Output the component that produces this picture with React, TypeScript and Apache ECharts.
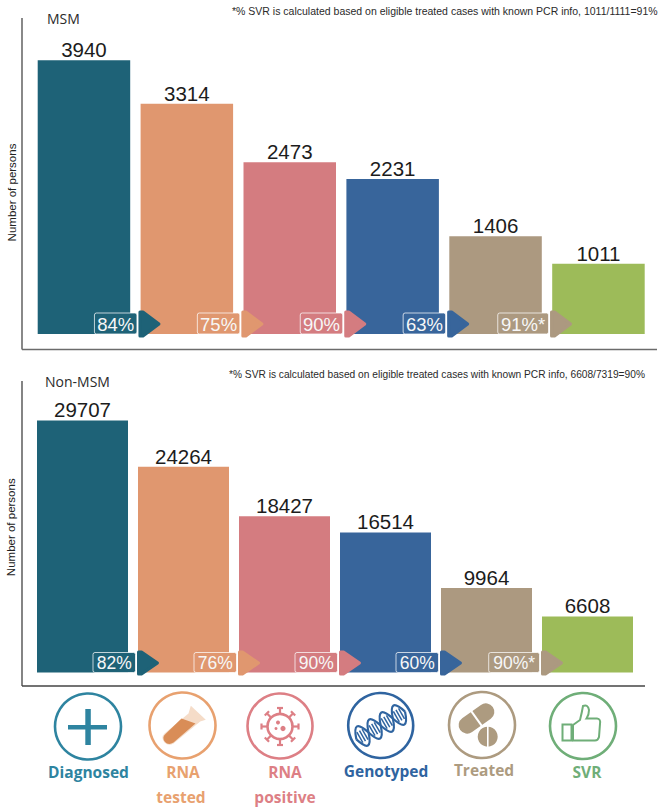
import React, { useEffect, useRef } from "react";
import * as echarts from "echarts";

const stages = ["Diagnosed", "RNA tested", "RNA positive", "Genotyped", "Treated", "SVR"];
const msmValues = [3940, 3314, 2473, 2231, 1406, 1011];
const nonMsmValues = [29707, 24264, 18427, 16514, 9964, 6608];
const msmRates = ["84%", "75%", "90%", "63%", "91%*"];
const nonMsmRates = ["82%", "76%", "90%", "60%", "90%*"];
const barColors = ["#1E6277", "#E0976F", "#D47C80", "#38659B", "#AC9980", "#9DBB59"];
const msmNote = "*% SVR is calculated based on eligible treated cases with known PCR info, 1011/1111=91%";
const nonMsmNote = "*% SVR is calculated based on eligible treated cases with known PCR info, 6608/7319=90%";
const FONT = "'Liberation Sans', Arial, sans-serif";
const ICON_FONT = "'Open Sans', sans-serif";

echarts.graphic.registerShape("tubeGlass", echarts.graphic.extendPath("M8.3 -19.7 L23.3 -5.7 L17.7 -4 L-9 18 Q-14 21 -18 17 Q-22 12 -18 8 L6 -12 Z", {}));
echarts.graphic.registerShape("tubeLiquid", echarts.graphic.extendPath("M-1 -7 L13 -2 L-9 17 Q-14 20 -17.500 16.500 Q-21 12 -17 8.500 Z", {}));
echarts.graphic.registerShape("thumbHand", echarts.graphic.extendPath("M-10 -1 L-3 -6 Q-1 -14 0 -20 Q5 -22 6 -16 Q6 -11 3.500 -7.500 L14 -7.500 Q18 -7 17 -2 L16 11 Q15 14.500 12 14.500 L-10 14.500 Z", {}));
echarts.graphic.registerShape("helixA", echarts.graphic.extendPath("M-28 0 Q-21 -22 -14 0 T0 0 T14 0 T28 0", {}));
echarts.graphic.registerShape("helixB", echarts.graphic.extendPath("M-28 0 Q-21 22 -14 0 T0 0 T14 0 T28 0", {}));

function ring(cx: number, cy: number, r: number, color: string) {
  return { type: "circle", shape: { cx, cy, r }, style: { fill: "none", stroke: color, lineWidth: 2.6 } };
}

function iconLabel(text: string, x: number, y: number, color: string) {
  return {
    type: "text", x, y,
    style: { text, fill: color, font: `700 15.5px ${ICON_FONT}`, textAlign: "center", textVerticalAlign: "middle" },
  };
}

function frameLine(x1: number, y1: number, x2: number, y2: number, stroke: string) {
  return { type: "line", shape: { x1, y1, x2, y2 }, style: { stroke, lineWidth: 1.6 } };
}

function virusIcon(cx: number, cy: number, color: string) {
  const children: any[] = [
    { type: "circle", shape: { cx: 0, cy: 0, r: 12.5 }, style: { fill: "none", stroke: color, lineWidth: 2.6 } },
    { type: "circle", shape: { cx: -2, cy: -4, r: 2 }, style: { fill: color } },
    { type: "circle", shape: { cx: 3, cy: 2, r: 2.6 }, style: { fill: color } },
    { type: "circle", shape: { cx: -4, cy: 2, r: 1.5 }, style: { fill: color } },
  ];
  for (let i = 0; i < 8; i++) {
    children.push({
      type: "group", rotation: (i * Math.PI) / 4,
      children: [
        { type: "line", shape: { x1: 0, y1: -12, x2: 0, y2: -18 }, style: { stroke: color, lineWidth: 2.2 } },
        { type: "line", shape: { x1: -3, y1: -18.500, x2: 3, y2: -18.500 }, style: { stroke: color, lineWidth: 2.2 } },
      ],
    });
  }
  return { type: "group", x: cx, y: cy, children };
}

function dnaIcon(cx: number, cy: number, color: string) {
  const rungs = [-24, -21, -18, -10, -7, -4, 4, 7, 10, 18, 21, 24].map((x) => ({
    type: "line", shape: { x1: x, y1: -6, x2: x, y2: 6 }, style: { stroke: color, lineWidth: 1.5 },
  }));
  return {
    type: "group", x: cx, y: cy, rotation: 0.52,
    children: [
      { type: "helixA", style: { fill: "none", stroke: color, lineWidth: 2.2 } },
      { type: "helixB", style: { fill: "none", stroke: color, lineWidth: 2.2 } },
      ...rungs,
    ],
  };
}

function pillIcon(cx: number, cy: number, color: string) {
  return {
    type: "group", x: cx, y: cy,
    children: [
      {
        type: "group", x: -5.500, y: -6.500, rotation: 0.62,
        children: [
          { type: "rect", shape: { x: -20, y: -8.500, width: 40, height: 17, r: 8.500 }, style: { fill: color } },
          { type: "rect", shape: { x: -1, y: -10, width: 2, height: 20 }, style: { fill: "#fff" } },
        ],
      },
      { type: "circle", shape: { cx: 5.700, cy: 11.700, r: 10 }, style: { fill: color } },
      { type: "rect", shape: { x: 5, y: 1, width: 1.600, height: 21 }, style: { fill: "#fff" } },
    ],
  };
}

function barSeries(values: number[], gridIndex: number, barWidth: number) {
  return {
    type: "bar",
    xAxisIndex: gridIndex,
    yAxisIndex: gridIndex,
    barWidth,
    data: values.map((value, i) => ({ value, itemStyle: { color: barColors[i] } })),
    label: {
      show: true, position: "top", distance: 0, color: "#1c1c1c",
      fontFamily: FONT, fontSize: 20.5,
    },
    z: 2,
  };
}

function rateSeries(rates: string[], gridIndex: number, boxH: number, arrowH: number, fontSize: number) {
  return {
    type: "custom",
    xAxisIndex: gridIndex,
    yAxisIndex: gridIndex,
    clip: false,
    z: 5,
    data: rates.map((_, i) => [i, 0]),
    renderItem(params: any, api: any) {
      const i = params.dataIndex;
      const base = api.coord([api.value(0), 0]);
      const cx = base[0];
      const by = base[1];
      const color = barColors[i];
      const wide = rates[i].length > 3;
      const left = cx + (wide ? 2.2 : 10.5);
      const right = cx + 53;
      const midY = by - boxH / 2 + 0.5;
      const a = arrowH / 2;
      return {
        type: "group",
        children: [
          {
            type: "rect",
            shape: { x: left, y: by - boxH, width: right - left, height: boxH, r: 2 },
            style: { fill: color, stroke: "rgba(255,255,255,0.72)", lineWidth: 1 },
          },
          {
            type: "text",
            x: (left + right) / 2, y: midY,
            style: {
              text: rates[i], fill: "#f7f7f7", font: `${fontSize}px ${FONT}`,
              textAlign: "center", textVerticalAlign: "middle",
            },
          },
          {
            type: "polygon",
            shape: {
              points: [
                [right + 3, midY - a + 2], [right + 6, midY - a + 2],
                [right + 22, midY], [right + 6, midY + a - 2], [right + 3, midY + a - 2],
              ],
            },
            style: { fill: color, stroke: color, lineWidth: 3, lineJoin: "round" },
          },
        ],
      };
    },
  };
}

function App() {
  const ref = useRef<HTMLDivElement>(null);
  useEffect(() => {
    const chart = echarts.init(ref.current!, undefined, { renderer: "svg" });
    const xAxisBase = {
      type: "category", data: stages,
      axisLine: { show: false }, axisTick: { show: false }, axisLabel: { show: false },
    };
    const yAxisBase = {
      type: "value", min: 0, name: "Number of persons", nameLocation: "middle",
      axisLine: { show: false }, axisTick: { show: false }, axisLabel: { show: false },
      splitLine: { show: false },
    };
    const nameStyle = { color: "#222", fontFamily: FONT, fontSize: 11.5, fontWeight: 400 };
    chart.setOption({
      animation: false,
      backgroundColor: "#ffffff",
      grid: [
        { left: 32.5, top: 56, width: 617.4, height: 278, outerBoundsMode: "none" },
        { left: 32, top: 418, width: 606, height: 254.500, outerBoundsMode: "none" },
      ],
      xAxis: [{ ...xAxisBase, gridIndex: 0 }, { ...xAxisBase, gridIndex: 1 }],
      yAxis: [
        { ...yAxisBase, gridIndex: 0, max: 4000, nameGap: 15, nameTextStyle: { ...nameStyle, padding: [0, 0, 0, 5] } },
        { ...yAxisBase, gridIndex: 1, max: 30000, nameGap: 15, nameTextStyle: { ...nameStyle, padding: [0, 0, 0, 36] } },
      ],
      series: [
        barSeries(msmValues, 0, 92.5),
        barSeries(nonMsmValues, 1, 91),
        rateSeries(msmRates, 0, 21, 28, 18.5),
        rateSeries(nonMsmRates, 1, 20, 26, 17.5),
      ],
      graphic: [
        frameLine(22, 18, 22, 349.500, "#6b6b6b"),
        frameLine(22, 349.500, 657, 349.500, "#6b6b6b"),
        frameLine(22, 381, 22, 686, "#666666"),
        frameLine(22, 686, 645, 686, "#444444"),
        { type: "text", x: 47, y: 18, style: { text: "MSM", fill: "#2a2a2a", font: `14px ${ICON_FONT}`, textVerticalAlign: "middle" } },
        { type: "text", x: 45, y: 381, style: { text: "Non-MSM", fill: "#2a2a2a", font: `14px ${ICON_FONT}`, textVerticalAlign: "middle" } },
        { type: "text", x: 232, y: 10.500, style: { text: msmNote, fill: "#2a2a2a", font: `10.5px ${FONT}`, textVerticalAlign: "middle" } },
        { type: "text", x: 229, y: 374, style: { text: nonMsmNote, fill: "#2a2a2a", font: `10.2px ${FONT}`, textVerticalAlign: "middle" } },

        ring(88, 726.500, 33, "#2E84A0"),
        { type: "rect", shape: { x: 85.300, y: 709, width: 5.500, height: 36 }, style: { fill: "#2E84A0" } },
        { type: "rect", shape: { x: 68, y: 725, width: 39, height: 4.500 }, style: { fill: "#2E84A0" } },
        iconLabel("Diagnosed", 88.500, 772, "#2E84A0"),

        ring(182.500, 725.500, 33, "#E8A16F"),
        { type: "tubeGlass", x: 182.500, y: 725.500, style: { fill: "#F5DCC8" } },
        { type: "tubeLiquid", x: 182.500, y: 725.500, style: { fill: "#D98D57" } },
        iconLabel("RNA", 183, 772, "#E8A16F"),
        iconLabel("tested", 181, 797, "#E8A16F"),

        ring(280, 726, 32.500, "#DD7F85"),
        virusIcon(280, 726.500, "#DD7F85"),
        iconLabel("RNA", 285, 772, "#DD7F85"),
        iconLabel("positive", 285, 797, "#DD7F85"),

        ring(380.700, 725.500, 32.500, "#2F64A0"),
        dnaIcon(380.700, 725.500, "#2F64A0"),
        iconLabel("Genotyped", 386, 771, "#2F64A0"),

        ring(482, 725, 33, "#AD9B80"),
        pillIcon(482, 725, "#AD9B80"),
        iconLabel("Treated", 484, 770, "#AD9B80"),

        ring(583, 726, 33, "#6FAE78"),
        { type: "rect", shape: { x: 562.500, y: 724.500, width: 9, height: 16 }, style: { fill: "none", stroke: "#6FAE78", lineWidth: 2 } },
        { type: "thumbHand", x: 583, y: 726, style: { fill: "none", stroke: "#6FAE78", lineWidth: 2 } },
        iconLabel("SVR", 587, 772, "#6FAE78"),
      ],
    });
    return () => chart.dispose();
  }, []);
  return <div ref={ref} style={{ position: "absolute", left: 0, top: 0, width: 668, height: 810 }} />;
}

export default App;
